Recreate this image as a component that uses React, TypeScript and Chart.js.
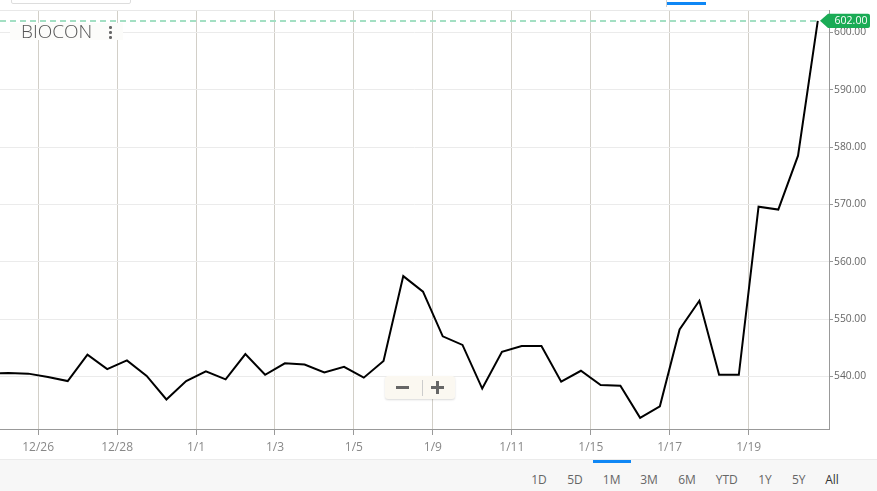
import React, { useEffect, useRef } from 'react';
import { Chart, registerables } from 'chart.js';

Chart.register(...registerables);

// ---- data ----
const tickLabels = ['12/26', '12/28', '1/1', '1/3', '1/5', '1/9', '1/11', '1/15', '1/17', '1/19'];
const tickPositions = [2.5, 6.5, 10.5, 14.5, 18.5, 22.5, 26.5, 30.5, 34.5, 38.5];
const prices = [
  540.5, 540.6, 540.5, 539.9, 539.2, 543.8, 541.3, 542.8, 540.1, 536.0,
  539.2, 540.9, 539.5, 543.9, 540.3, 542.3, 542.1, 540.7, 541.7, 539.8,
  542.7, 557.5, 554.8, 547.0, 545.5, 537.9, 544.3, 545.3, 545.3, 539.1,
  541.0, 538.5, 538.4, 532.8, 534.8, 548.2, 553.2, 540.3, 540.3, 569.6,
  569.1, 578.5, 602.0,
];
const yTicks = [540, 550, 560, 570, 580, 590, 600];
const lastPrice = 602;
const symbol = 'BIOCON';
const ranges = ['1D', '5D', '1M', '3M', '6M', 'YTD', '1Y', '5Y', 'All'];
const rangeX = [539, 575, 611.7, 649, 687, 726.7, 765, 798.7, 832];

const FONT = "'Open Sans', 'DejaVu Sans', sans-serif";

const markerPlugin = {
  id: 'lastPriceMarker',
  beforeDatasetsDraw(chart: any) {
    const { ctx, chartArea, scales } = chart;
    const y = Math.round(scales.y.getPixelForValue(lastPrice));
    ctx.save();
    ctx.strokeStyle = '#a3dfc3';
    ctx.lineWidth = 2;
    ctx.setLineDash([6, 4]);
    ctx.beginPath();
    ctx.moveTo(chartArea.left, y);
    ctx.lineTo(chartArea.right - 11, y);
    ctx.stroke();
    ctx.restore();
  },
  afterDraw(chart: any) {
    const { ctx, chartArea, scales } = chart;
    const y = scales.y.getPixelForValue(lastPrice);
    const tip = chartArea.right - 9;
    const boxL = tip + 8;
    const boxR = boxL + 42;
    const h = 14.4;
    const r = 2;
    ctx.save();
    ctx.fillStyle = '#1aab55';
    ctx.beginPath();
    ctx.moveTo(tip, y);
    ctx.lineTo(boxL, y - h / 2);
    ctx.lineTo(boxR - r, y - h / 2);
    ctx.quadraticCurveTo(boxR, y - h / 2, boxR, y - h / 2 + r);
    ctx.lineTo(boxR, y + h / 2 - r);
    ctx.quadraticCurveTo(boxR, y + h / 2, boxR - r, y + h / 2);
    ctx.lineTo(boxL, y + h / 2);
    ctx.closePath();
    ctx.fill();
    ctx.fillStyle = '#ffffff';
    ctx.font = `10.5px ${FONT}`;
    ctx.textAlign = 'center';
    ctx.textBaseline = 'middle';
    ctx.fillText(lastPrice.toFixed(2), (boxL + boxR) / 2 + 2, y + 0.5);
    ctx.restore();
  },
};

export default function App() {
  const canvasRef = useRef<HTMLCanvasElement | null>(null);

  useEffect(() => {
    if (!canvasRef.current) return;
    const chart = new Chart(canvasRef.current, {
      type: 'line',
      data: {
        datasets: [
          {
            data: prices.map((v, i) => ({ x: i, y: v })),
            borderColor: '#000000',
            borderWidth: 2,
            pointRadius: 0,
            tension: 0,
            fill: false,
          },
        ],
      },
      options: {
        animation: false,
        responsive: false,
        devicePixelRatio: 1,
        layout: { padding: { top: 10.5, left: 0, right: 0, bottom: 0 } },
        plugins: { legend: { display: false }, tooltip: { enabled: false } },
        scales: {
          x: {
            type: 'linear',
            min: 0.569,
            max: 42.569,
            afterBuildTicks: (s: any) => {
              s.ticks = tickPositions.map((v) => ({ value: v }));
            },
            afterFit: (s: any) => {
              s.height = 62;
            },
            grid: { color: '#d2cfc8', tickColor: '#999999', tickLength: 6, lineWidth: 1 },
            border: { display: true, color: '#999999', width: 1 },
            ticks: {
              autoSkip: false,
              maxRotation: 0,
              callback: (_v: any, i: number) => tickLabels[i],
              font: { family: FONT, size: 12 },
              color: '#888888',
              padding: 5,
            },
          },
          y: {
            type: 'linear',
            position: 'right',
            min: 530.85,
            max: 603.8,
            afterBuildTicks: (s: any) => {
              s.ticks = yTicks.map((v) => ({ value: v }));
            },
            afterFit: (s: any) => {
              s.width = 48;
            },
            grid: { color: '#ebebeb', tickColor: '#999999', tickLength: 4, lineWidth: 1 },
            border: { display: true, color: '#999999', width: 1 },
            ticks: {
              callback: (v: any) => Number(v).toFixed(2),
              font: { family: FONT, size: 10.3 },
              color: '#666666',
              padding: 1,
            },
          },
        },
      },
      plugins: [markerPlugin],
    } as any);
    return () => chart.destroy();
  }, []);

  const abs = (s: React.CSSProperties): React.CSSProperties => ({ position: 'absolute', ...s });

  return (
    <div style={{ position: 'fixed', left: 0, top: 0, width: 877, height: 491, background: '#fff', overflow: 'hidden', fontFamily: FONT }}>
      <canvas ref={canvasRef} width={877} height={491} style={{ position: 'absolute', left: 0, top: 0, width: 877, height: 491 }} />
      {/* top chrome */}
      <div style={abs({ left: 10.5, top: -10, width: 118, height: 12, border: '1px solid #dddddd', borderRadius: 2, background: '#fff' })} />
      <div style={abs({ left: 0, top: 10, width: 829, height: 1, background: '#e8e8e8' })} />
      <div style={abs({ left: 666, top: 0, width: 1, height: 7, background: '#d0d0d0' })} />
      <div style={abs({ left: 667, top: 2, width: 39, height: 3, background: '#0f87f5' })} />
      {/* symbol label */}
      <div style={abs({ left: 10, top: 23, width: 113, height: 17, background: '#fcfcfa', paddingLeft: 11, boxSizing: 'border-box', lineHeight: '17px', fontSize: 19, fontWeight: 300, color: '#555555', whiteSpace: 'nowrap' })}>
        {symbol}
      </div>
      {[27.3, 32.5, 37.5].map((t) => (
        <div key={t} style={abs({ left: 109, top: t - 1.25, width: 2.5, height: 2.5, borderRadius: '50%', background: '#666' })} />
      ))}
      {/* zoom control */}
      <div style={abs({ left: 385, top: 376, width: 70, height: 23, background: '#fbf8f1', borderRadius: 3, boxShadow: '0 1px 2px rgba(0,0,0,0.15)' })} />
      <div style={abs({ left: 396, top: 386, width: 13, height: 3, background: '#666' })} />
      <div style={abs({ left: 421.5, top: 379.5, width: 1, height: 16, background: '#cccccc' })} />
      <div style={abs({ left: 431, top: 386, width: 13, height: 3, background: '#666' })} />
      <div style={abs({ left: 436, top: 381, width: 3, height: 13, background: '#666' })} />
      {/* bottom range bar */}
      <div style={abs({ left: 0, top: 459, width: 877, height: 32, background: '#f7f7f7', borderTop: '1px solid #ebebeb', boxSizing: 'border-box' })} />
      <div style={abs({ left: 593, top: 460, width: 38, height: 3, background: '#0f87f5' })} />
      {ranges.map((r, i) => (
        <span
          key={r}
          style={abs({ left: rangeX[i], top: 471, transform: 'translateX(-50%)', fontSize: 12, lineHeight: '18px', color: r === 'All' ? '#333333' : '#666666', whiteSpace: 'nowrap' })}
        >
          {r}
        </span>
      ))}
    </div>
  );
}
